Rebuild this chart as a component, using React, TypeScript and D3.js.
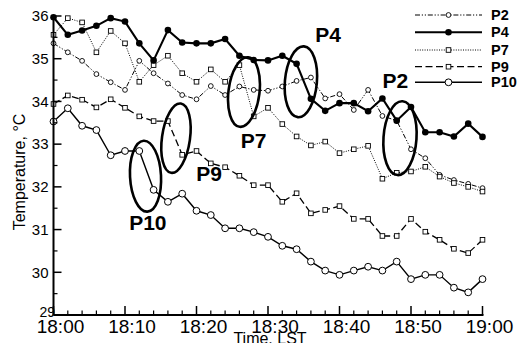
import React from "react";
import * as d3 from "d3";

// Minutes after 18:00 (LST), sampled every two minutes
const minutes = [0, 2, 4, 6, 8, 10, 12, 14, 16, 18, 20, 22, 24, 26, 28, 30, 32, 34, 36, 38, 40, 42, 44, 46, 48, 50, 52, 54, 56, 58, 60];

// Temperature (°C) at each measuring point
const p2 = [35.36, 35.15, 34.95, 34.64, 34.45, 34.27, 34.95, 34.66, 34.42, 34.15, 34.05, 34.36, 34.15, 34.35, 34.27, 34.25, 34.35, 34.48, 34.56, 34.07, 34.17, 33.8, 34.27, 33.66, 33.55, 32.88, 32.67, 32.28, 32.16, 32.07, 31.97];
const p4 = [35.97, 35.56, 35.66, 35.77, 35.95, 35.87, 35.36, 34.96, 35.67, 35.38, 35.36, 35.36, 35.46, 35.07, 34.97, 34.96, 35.07, 34.88, 34.06, 33.78, 33.96, 33.96, 33.77, 34.07, 33.55, 33.87, 33.28, 33.28, 33.18, 33.48, 33.17];
const p7 = [35.56, 35.95, 35.85, 35.15, 35.65, 35.36, 34.46, 34.85, 35.07, 34.66, 34.46, 34.75, 34.46, 34.85, 33.65, 33.85, 33.47, 33.18, 32.97, 33.06, 32.79, 32.88, 32.96, 32.19, 32.33, 32.36, 32.47, 32.24, 32.09, 32.0, 31.89];
const p9 = [33.94, 34.14, 34.04, 33.86, 34.05, 33.85, 33.65, 33.54, 33.54, 32.75, 32.84, 32.55, 32.46, 32.26, 32.04, 32.04, 31.65, 31.85, 31.38, 31.46, 31.55, 31.25, 31.25, 30.85, 30.85, 31.25, 30.95, 30.76, 30.55, 30.45, 30.76];
const p10 = [33.53, 33.84, 33.43, 33.33, 32.74, 32.84, 32.84, 31.93, 31.65, 31.84, 31.44, 31.34, 31.03, 31.03, 30.94, 30.83, 30.62, 30.54, 30.25, 30.04, 29.94, 30.04, 30.13, 30.04, 30.25, 29.84, 29.94, 29.94, 29.64, 29.53, 29.84];

const xTickLabels = ["18:00", "18:10", "18:20", "18:30", "18:40", "18:50", "19:00"];
const yTicks = [29, 30, 31, 32, 33, 34, 35, 36];

// Highlighted drops: centre (minute, °C) and label anchor (minute, °C)
const highlightNames = ["P10", "P9", "P7", "P4", "P2"];
const highlightCentres: [number, number][] = [[12.87, 32.25], [17.13, 33.14], [26.64, 34.22], [34.6, 34.46], [48.46, 33.14]];
const highlightLabelPos: [number, number][] = [[13.2, 30.99], [21.75, 32.14], [28.0, 32.91], [38.4, 35.39], [47.8, 34.31]];

type Marker = "circle" | "dot" | "square" | "smallcircle";
interface Series { name: string; values: number[]; dash: string; width: number; marker: Marker; }

const series: Series[] = [
  { name: "P2", values: p2, dash: "5,1.8,1.2,1.8,1.2,1.8", width: 1, marker: "smallcircle" },
  { name: "P7", values: p7, dash: "1,1.4", width: 1, marker: "square" },
  { name: "P9", values: p9, dash: "7,3.5", width: 1.3, marker: "square" },
  { name: "P10", values: p10, dash: "", width: 1.4, marker: "circle" },
  { name: "P4", values: p4, dash: "", width: 2.1, marker: "dot" },
];
const legendOrder = ["P2", "P4", "P7", "P9", "P10"];

const W = 519;
const H = 343;
const FONT = "'Liberation Sans', Arial, Helvetica, sans-serif";

const x = d3.scaleLinear().domain([0, 60]).range([53.5, 482.5]);
const y = d3.scaleLinear().domain([29, 36]).range([315, 16]);

function MarkerShape({ kind, cx, cy }: { kind: Marker; cx: number; cy: number }) {
  if (kind === "square") {
    const s = 4.6;
    return <rect x={cx - s / 2} y={cy - s / 2} width={s} height={s} fill="#fff" stroke="#000" strokeWidth={0.9} />;
  }
  if (kind === "dot") return <circle cx={cx} cy={cy} r={3.3} fill="#000" />;
  if (kind === "smallcircle") return <circle cx={cx} cy={cy} r={2.4} fill="#fff" stroke="#000" strokeWidth={0.9} />;
  return <circle cx={cx} cy={cy} r={3.4} fill="#fff" stroke="#000" strokeWidth={1} />;
}

export default function App() {
  const line = d3
    .line<number>()
    .x((_, i) => x(minutes[i]))
    .y((v) => y(v));

  const minorX = d3.range(0, 61, 2).filter((m) => m % 10 !== 0);
  const minorY = d3.range(29.5, 36, 1);

  return (
    <svg
      width={W}
      height={H}
      viewBox={`0 0 ${W} ${H}`}
      style={{ position: "absolute", left: 0, top: 0, background: "#fff" }}
      fontFamily={FONT}
    >
      <rect x={0} y={0} width={W} height={H} fill="#fff" />

      {/* series lines and markers */}
      {series.map((s) => (
        <g key={s.name}>
          <path d={line(s.values) || ""} fill="none" stroke="#000" strokeWidth={s.width} strokeDasharray={s.dash || undefined} />
          {s.values.map((v, i) => (
            <MarkerShape key={i} kind={s.marker} cx={x(minutes[i])} cy={y(v)} />
          ))}
        </g>
      ))}

      {/* highlighted drops */}
      {highlightNames.map((n, i) => {
        const [cm, ct] = highlightCentres[i];
        const [lm, lt] = highlightLabelPos[i];
        const rot = [-3, 8, 7, 5, 4][i];
        const rx = [15.5, 14, 15.5, 16, 16.5][i];
        const ry = [35.5, 35, 35, 35.5, 37][i];
        const cx = x(cm);
        const cy = y(ct);
        return (
          <g key={n}>
            <ellipse cx={cx} cy={cy} rx={rx} ry={ry} fill="none" stroke="#000" strokeWidth={2.6} transform={`rotate(${rot} ${cx} ${cy})`} />
            <text x={x(lm)} y={y(lt)} fontSize={21} fontWeight="bold" textAnchor="middle">{n}</text>
          </g>
        );
      })}

      {/* legend */}
      {legendOrder.map((name, i) => {
        const s = series.find((d) => d.name === name)!;
        const ly = [15, 32.3, 50, 66.7, 82.3][i];
        return (
          <g key={name}>
            <line x1={415} x2={482} y1={ly} y2={ly} stroke="#000" strokeWidth={s.width} strokeDasharray={s.dash || undefined} />
            <MarkerShape kind={s.marker} cx={448.5} cy={ly} />
            <text x={491} y={ly + 5} fontSize={14.5} fontWeight="bold">{name}</text>
          </g>
        );
      })}

      {/* axes */}
      <line x1={53.5} x2={53.5} y1={y(36) - 1} y2={315} stroke="#000" strokeWidth={2} />
      <line x1={53.5} x2={483.5} y1={315} y2={315} stroke="#000" strokeWidth={2} />
      {yTicks.map((t) => (
        <line key={t} x1={53.5} x2={61.5} y1={y(t)} y2={y(t)} stroke="#000" strokeWidth={1.5} />
      ))}
      {minorY.map((t) => (
        <line key={t} x1={53.5} x2={57.5} y1={y(t)} y2={y(t)} stroke="#000" strokeWidth={1.2} />
      ))}
      {xTickLabels.map((_, i) => (
        <line key={i} x1={x(i * 10)} x2={x(i * 10)} y1={315} y2={306} stroke="#000" strokeWidth={1.5} />
      ))}
      {minorX.map((m) => (
        <line key={m} x1={x(m)} x2={x(m)} y1={315} y2={310.5} stroke="#000" strokeWidth={1.2} />
      ))}

      {/* tick labels */}
      {yTicks.map((t) =>
        t === 29 ? (
          <text key={t} x={55} y={317} fontSize={14} textAnchor="end">{t}</text>
        ) : (
          <text key={t} x={48.5} y={y(t) + 5.3} fontSize={15} textAnchor="end">{t}</text>
        )
      )}
      {xTickLabels.map((lab, i) => (
        <text key={lab} x={x(i * 10) + 7} y={333} fontSize={19} textAnchor="middle">{lab}</text>
      ))}

      {/* axis titles */}
      <text transform={`translate(24.5,${172}) rotate(-90)`} fontSize={16} textAnchor="middle">Temperature, °C</text>
      <text x={270} y={344} fontSize={16} textAnchor="middle">Time, LST</text>
    </svg>
  );
}
